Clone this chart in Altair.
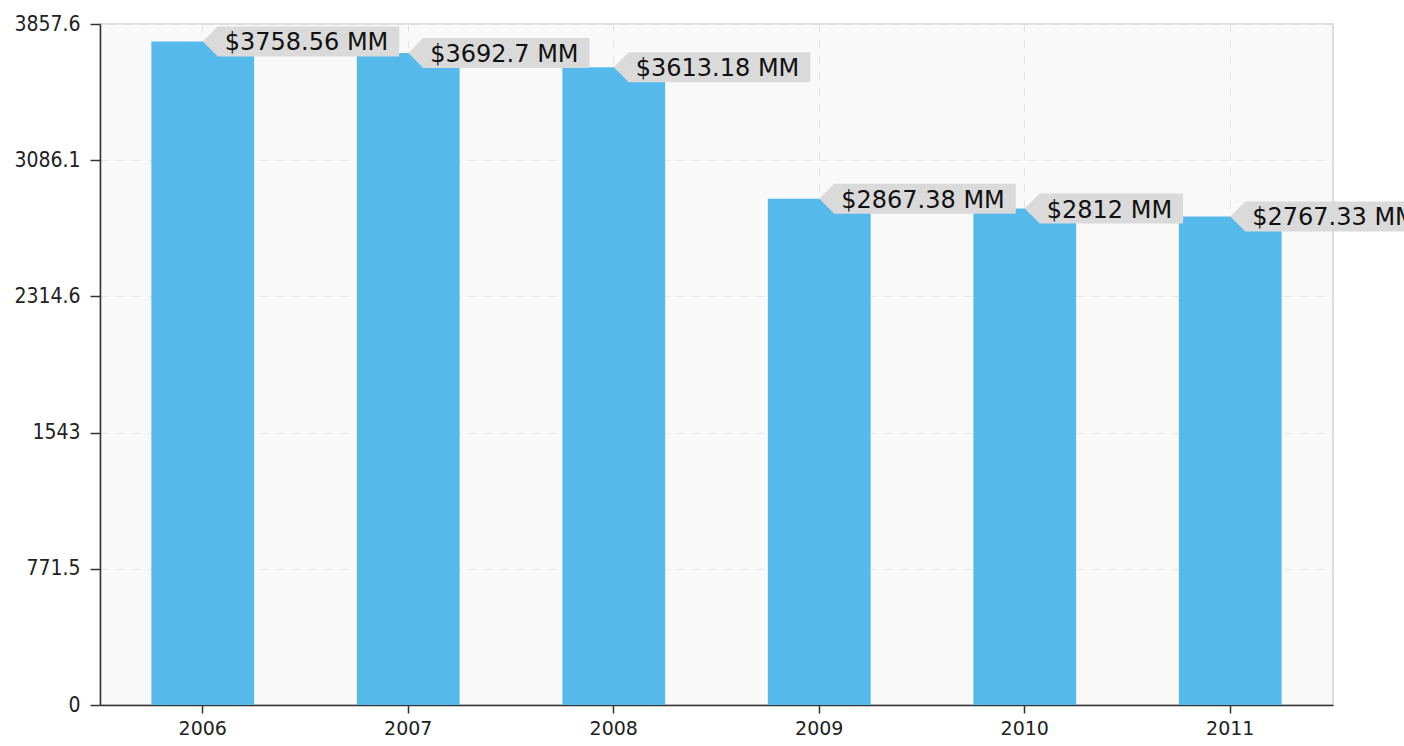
import altair as alt
import pandas as pd

years = ["2006", "2007", "2008", "2009", "2010", "2011"]
values = [3758.56, 3692.7, 3613.18, 2867.38, 2812, 2767.33]
labels = ["$3758.56 MM", "$3692.7 MM", "$3613.18 MM", "$2867.38 MM", "$2812 MM", "$2767.33 MM"]
y_max = 3857.6
y_ticks = [0, 771.52, 1543.04, 2314.56, 3086.08, 3857.6]

LABEL_FONT = 24
CHAR_W = {"$": 0.636, ".": 0.318, " ": 0.318, "M": 0.863}


def tag_path(text):
    tw = sum(CHAR_W.get(c, 0.636) for c in text) * LABEL_FONT
    w = 22 + tw + 11
    return f"M0,0L15,-15L{w:.1f},-15L{w:.1f},15L15,15Z"


df = pd.DataFrame({
    "year": years,
    "value": values,
    "label": labels,
    "tag": [tag_path(t) for t in labels],
})

x = alt.X("year:N", title=None, sort=years,
          scale=alt.Scale(paddingInner=0.5, paddingOuter=0.25),
          axis=alt.Axis(labelAngle=0, labelFont="DejaVu Sans", labelFontSize=19,
                        labelColor="#222", tickSize=8, tickColor="#333", tickWidth=1.5,
                        domainColor="#333", domainWidth=1.5, labelPadding=6,
                        grid=True, gridDash=[8, 8], gridColor="#e2e2e2", gridWidth=1))
y = alt.Y("value:Q", title=None,
          scale=alt.Scale(domain=[0, y_max], nice=False, zero=True),
          axis=alt.Axis(values=y_ticks, format=".1~f", labelFont="DejaVu Sans Condensed",
                        labelFontSize=21, labelColor="#222", tickSize=10, tickColor="#333",
                        tickWidth=1.5, domainColor="#333", domainWidth=1.5, labelPadding=10,
                        grid=True, gridDash=[8, 8], gridColor="#e6e6e6", gridWidth=1))

bars = alt.Chart(df).mark_bar(color="#56b9eb").encode(x=x, y=y)

tags = alt.Chart(df).mark_point(filled=True, opacity=1, fill="#dadada", strokeWidth=0,
                                size=4).encode(
    x=alt.X("year:N", sort=years),
    y=alt.Y("value:Q"),
    shape=alt.Shape("tag:N", scale=None),
)

texts = alt.Chart(df).mark_text(align="left", baseline="middle", dx=22, dy=2,
                                font="DejaVu Sans", fontSize=LABEL_FONT,
                                color="#111").encode(
    x=alt.X("year:N", sort=years),
    y=alt.Y("value:Q"),
    text="label:N",
)

chart = alt.layer(bars, tags, texts).properties(
    width=1233, height=681,
    autosize=alt.AutoSizeParams(type="none"),
    padding={"left": 100, "top": 24, "right": 71, "bottom": 41},
    background="white",
).configure_view(fill="#f9f9f9", stroke="#dddddd", strokeWidth=2)

chart.save("out.html", embed_options={"renderer": "svg", "actions": False})
